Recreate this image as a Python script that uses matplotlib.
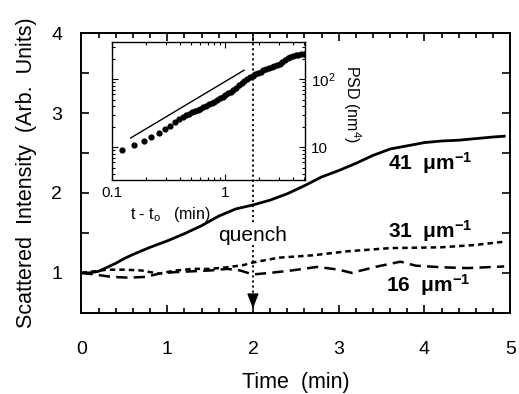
import numpy as np
import matplotlib
matplotlib.use("Agg")
import matplotlib.pyplot as plt
from matplotlib.lines import Line2D
from matplotlib.ticker import MultipleLocator, FixedLocator, NullFormatter

plt.rcParams['font.family'] = ['Liberation Sans', 'DejaVu Sans']
plt.rcParams['mathtext.fontset'] = 'custom'
plt.rcParams['mathtext.rm'] = 'Liberation Sans'
plt.rcParams['mathtext.bf'] = 'Liberation Sans:bold'
plt.rcParams['mathtext.it'] = 'Liberation Sans:italic'

# main panel: scattered intensity vs time
t41 = [0, 0.1, 0.2, 0.3, 0.4, 0.5, 0.6, 0.8, 1.0, 1.2, 1.4, 1.6, 1.8, 2.0, 2.2, 2.4,
       2.6, 2.8, 3.0, 3.2, 3.4, 3.6, 3.8, 4.0, 4.2, 4.4, 4.6, 4.8, 4.93]
i41 = [1.0, 1.0, 1.02, 1.07, 1.12, 1.18, 1.23, 1.32, 1.40, 1.49, 1.59, 1.71, 1.80, 1.85,
       1.91, 1.99, 2.09, 2.20, 2.28, 2.37, 2.47, 2.55, 2.59, 2.63, 2.65, 2.66, 2.68, 2.70, 2.71]

t31 = [0, 0.15, 0.3, 0.5, 0.7, 0.9, 1.1, 1.3, 1.5, 1.7, 1.9, 2.0, 2.3, 2.7, 3.1, 3.6,
       4.2, 4.6, 4.93]
i31 = [1.0, 1.02, 1.04, 1.04, 1.03, 0.99, 1.03, 1.05, 1.05, 1.07, 1.10, 1.13, 1.19, 1.22,
       1.27, 1.31, 1.32, 1.35, 1.39]

t16 = [0, 0.15, 0.35, 0.55, 0.75, 0.9, 1.1, 1.3, 1.5, 1.7, 1.85, 2.0, 2.2, 2.45, 2.75,
       3.0, 3.15, 3.45, 3.72, 3.9, 4.2, 4.5, 4.93]
i16 = [1.0, 0.98, 0.95, 0.94, 0.95, 0.99, 1.01, 1.02, 1.03, 1.05, 1.03, 0.98, 1.0, 1.03,
       1.075, 1.04, 1.0, 1.08, 1.14, 1.09, 1.07, 1.06, 1.08]

# inset: PSD vs t - t0 (log-log)
t_in = [0.123, 0.155, 0.19, 0.223, 0.258, 0.292, 0.327, 0.363, 0.394, 0.42, 0.45, 0.48,
        0.51, 0.54, 0.57, 0.60, 0.64, 0.68, 0.72, 0.76, 0.80, 0.85, 0.90, 0.95, 1.0,
        1.06, 1.12, 1.18, 1.25, 1.32, 1.40, 1.48, 1.56, 1.65, 1.75, 1.85, 1.95, 2.06,
        2.18, 2.30, 2.43, 2.57, 2.72, 2.88, 3.04, 3.21, 3.39, 3.58, 3.78, 3.99, 4.21,
        4.44, 4.69, 4.95, 5.07]
psd_in = [9.0, 10.7, 12.2, 14.2, 16.4, 18.4, 20.6, 23.6, 26.3, 28.0, 29.6, 31.1,
          32.7, 34.0, 35.5, 37.0, 38.9, 41.0, 42.9, 44.9, 46.8, 49.2, 52.2, 55.2, 58.2,
          61.8, 65.3, 69.0, 75.0, 81.1, 88.1, 95.4, 102.3, 107.7, 113.3, 118.6, 124.0, 129.7,
          135.8, 142.2, 147.5, 152.7, 158.2, 163.8, 169.4, 179.8, 190.9, 203.3, 214.6, 219.3, 223.6,
          228.2, 230.7, 231.0, 231.0]
t_ref = [0.146, 1.47]
psd_ref = [13.7, 135.5]

fig = plt.figure(figsize=(5.19, 3.94), dpi=100)
ax = fig.add_axes([0.157, 0.206, 0.826, 0.710])

ax.plot(t41, i41, color='black', lw=2.0)
ax.plot(t31, i31, color='black', lw=1.8, linestyle=(0, (2.2, 1.6)))
ax.plot(t16, i16, color='black', lw=1.8, linestyle=(0, (4.5, 2.5)))

ax.set_xlim(0, 5)
ax.set_ylim(0.5, 4)
ax.xaxis.set_major_locator(MultipleLocator(1))
ax.xaxis.set_minor_locator(MultipleLocator(0.2))
ax.yaxis.set_major_locator(FixedLocator([1, 2, 3, 4]))
ax.yaxis.set_minor_locator(FixedLocator([1.5, 2.5, 3.5]))
ax.tick_params(which='both', direction='in', top=True, right=True, width=1.2)
ax.tick_params(which='major', length=6, labelsize=14)
ax.tick_params(axis='x', which='major', pad=20)
ax.tick_params(axis='y', which='major', pad=14)
ax.tick_params(axis='y', which='minor', length=6)
ax.tick_params(axis='x', which='minor', length=3.5)
for s in ax.spines.values():
    s.set_linewidth(1.4)

ax.set_xlabel('Time  (min)', fontsize=15.5, labelpad=10)
ax.set_ylabel('Scattered  Intensity  (Arb.  Units)', fontsize=15.5, labelpad=10)

ax.text(3.57, 2.375, '41  \u03bcm$^{\\mathbf{-1}}$', fontsize=15, fontweight='bold', va='center')
ax.text(3.57, 1.52, '31  \u03bcm$^{\\mathbf{-1}}$', fontsize=15, fontweight='bold', va='center')
ax.text(3.55, 0.85, '16  \u03bcm$^{\\mathbf{-1}}$', fontsize=15, fontweight='bold', va='center')
ax.text(2.0, 1.47, 'quench', fontsize=15, ha='center', va='center')

# quench marker: lower dotted part with arrow head
ax.plot([2, 2], [1.35, 0.72], color='black', lw=1.3, linestyle=(0, (1.2, 1.6)))
ax.annotate('', xy=(2, 0.52), xytext=(2, 0.74),
            arrowprops=dict(arrowstyle='-|>,head_length=0.9,head_width=0.35',
                            color='black', lw=1.0))

# inset
axi = fig.add_axes([0.216, 0.543, 0.372, 0.350])
axi.scatter(t_in, psd_in, s=12, color='black', zorder=3)
axi.plot(t_ref, psd_ref, color='black', lw=1.0)
axi.set_xscale('log')
axi.set_yscale('log')
axi.set_xlim(0.1, 5.1)
axi.set_ylim(3.3, 350)
axi.set_xticks([0.1, 1])
axi.set_xticklabels(['0.1', '1'])
axi.set_yticks([10, 100])
axi.set_yticklabels(['10', '10$^2$'])
axi.xaxis.set_minor_formatter(NullFormatter())
axi.yaxis.set_minor_formatter(NullFormatter())
axi.tick_params(which='both', direction='in', top=True, right=True, labelleft=False,
                labelright=True, labelsize=11, width=0.8)
axi.tick_params(which='major', length=4.5, pad=4)
axi.tick_params(which='minor', length=2.5)
for s in axi.spines.values():
    s.set_linewidth(1.0)
axi.set_xlabel('t - t$_\\mathrm{o}$   (min)', fontsize=11.5, labelpad=4, x=0.3)
axi.yaxis.set_label_position('right')
axi.set_ylabel('PSD (nm$^4$)', fontsize=11.5, rotation=270, labelpad=20, y=0.55)

# upper dotted part of the quench line drawn above the inset
fig.add_artist(Line2D([2, 2], [4, 1.63], transform=ax.transData, color='black',
                      lw=1.3, linestyle=(0, (1.2, 1.6)), zorder=5))

fig.savefig('out.png', dpi=100)
